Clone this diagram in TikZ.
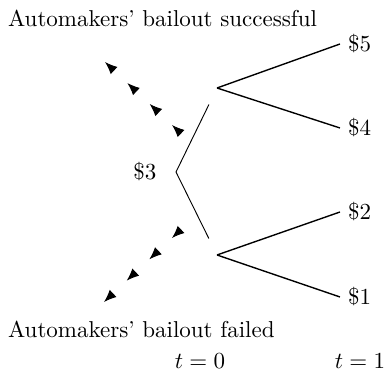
\documentclass[tikz,border=0pt]{standalone}
\usetikzlibrary{arrows.meta,decorations.markings,positioning}
\tikzset{
  stem/.style={draw,thin,shorten >=8pt},
  branch/.style={draw,semithick},
  payoff/.style={anchor=west},
  caption/.style={anchor=west},
  arr_marks/.style={decorate,decoration={markings,
    mark=between positions 0 and 1 step 0.3333 with {\arrow{Latex[length=5.4pt,width=4.3pt]}}}},
}
\begin{document}
\begin{tikzpicture}[x=0.435pt,y=-0.435pt]
  \useasboundingbox (0,0) rectangle (385,378);
  % tree points
  \coordinate (r) at (176,172);
  \coordinate (u) at (217,88);
  \coordinate (d) at (217,255);
  \node[left=5pt of r] (v3) {\$3};
  \node[payoff] (v5) at (340,44) {\$5};
  \node[payoff] (v4) at (340,128) {\$4};
  \node[payoff] (v2) at (340,212) {\$2};
  \node[payoff] (v1) at (340,297) {\$1};
  \draw[stem] (r) -- (u);
  \draw[stem] (r) -- (d);
  \draw[branch] (u) -- (v5.west);
  \draw[branch] (u) -- (v4.west);
  \draw[branch] (d) -- (v2.west);
  \draw[branch] (d) -- (v1.west);
  % scenario labels
  \node[caption] (good) at (0,18) {Automakers' bailout successful};
  \node[caption] (bad) at (0,329) {Automakers' bailout failed};
  \coordinate (g0) at (172,125);
  \coordinate (g1) at (105,62);
  \coordinate (b0) at (172,238);
  \coordinate (b1) at (104,302);
  \path[arr_marks] (g0) -- (g1);
  \path[arr_marks] (b0) -- (b1);
  % time axis
  \node (t0) at (200,361) {$t=0$};
  \node (t1) at (360,361) {$t=1$};
\end{tikzpicture}
\end{document}
